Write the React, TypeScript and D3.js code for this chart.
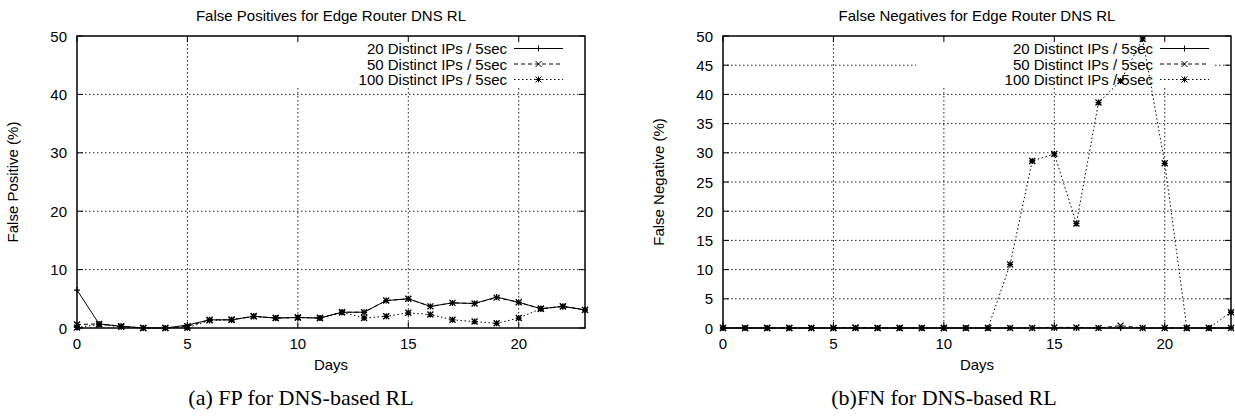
import * as d3 from 'd3';

const days = [0, 1, 2, 3, 4, 5, 6, 7, 8, 9, 10, 11, 12, 13, 14, 15, 16, 17, 18, 19, 20, 21, 22, 23];
const xTicks = [0, 5, 10, 15, 20];
const seriesNames = ['20 Distinct IPs / 5sec', '50 Distinct IPs / 5sec', '100 Distinct IPs / 5sec'];

// False positives (%)
const fp20 = [6.5, 0.7, 0.3, 0, 0, 0.5, 1.4, 1.4, 2.0, 1.7, 1.8, 1.7, 2.7, 2.7, 4.7, 5.0, 3.7, 4.3, 4.2, 5.3, 4.4, 3.3, 3.7, 3.1];
const fp50 = [0.6, 0.7, 0.3, 0, 0, 0.3, 1.4, 1.4, 2.0, 1.7, 1.8, 1.7, 2.7, 2.7, 4.7, 5.0, 3.7, 4.3, 4.2, 5.2, 4.4, 3.3, 3.7, 3.1];
const fp100 = [0.1, 0.6, 0.2, 0, 0, 0.05, 1.3, 1.4, 2.0, 1.7, 1.8, 1.7, 2.7, 1.7, 2.0, 2.6, 2.3, 1.4, 1.1, 0.8, 1.7, 3.3, 3.7, 3.1];
const fpTicks = [0, 10, 20, 30, 40, 50];

// False negatives (%)
const fn20 = [0, 0, 0, 0, 0, 0, 0, 0, 0, 0, 0, 0, 0, 0, 0, 0, 0, 0, 0, 0, 0, 0, 0, 0];
const fn50 = [0, 0, 0, 0, 0, 0, 0.1, 0, 0, 0, 0, 0, 0, 0, 0, 0.1, 0.1, 0, 0.4, 0, 0, 0, 0, 0];
const fn100 = [0, 0, 0, 0, 0, 0, 0, 0, 0, 0, 0, 0, 0, 10.9, 28.6, 29.8, 17.9, 38.6, 42.3, 49.5, 28.2, 0, 0, 2.7];
const fnTicks = [0, 5, 10, 15, 20, 25, 30, 35, 40, 45, 50];

const SANS = "'Liberation Sans', Arial, Helvetica, sans-serif";
const SERIF = "'Liberation Serif', 'Times New Roman', serif";

const styles = [
  { dash: undefined as string | undefined, marker: 'plus' },
  { dash: '4,3', marker: 'cross' },
  { dash: '1.5,2.5', marker: 'star' },
];

function markerPath(kind: string, x: number, y: number, r: number) {
  const plus = `M${x - r},${y}H${x + r}M${x},${y - r}V${y + r}`;
  const cross = `M${x - r},${y - r}L${x + r},${y + r}M${x - r},${y + r}L${x + r},${y - r}`;
  if (kind === 'plus') return plus;
  if (kind === 'cross') return cross;
  return plus + cross;
}

type PanelProps = {
  x0: number;
  title: string;
  ylabel: string;
  yTicks: number[];
  series: number[][];
  caption: string;
  captionDx: number;
};

function Panel({ x0, title, ylabel, yTicks, series, caption, captionDx }: PanelProps) {
  const plotW = 508;
  const top = 36;
  const bottom = 328;
  const x = d3.scaleLinear().domain([0, 23]).range([x0, x0 + plotW]);
  const y = d3.scaleLinear().domain([0, 50]).range([bottom, top]);
  const right = x0 + plotW;
  const cx = (x0 + right) / 2;
  const line = d3.line<number>().x((_, i) => x(days[i])).y((d) => y(d));

  // legend box (opaque, hides grid)
  const boxL = right - 315;
  const boxR = right - 16;
  const boxB = 87;
  const rowY = [48.5, 64, 79.5];

  return (
    <g>
      <text x={cx} y={21} textAnchor="middle" fontFamily={SANS} fontSize={15}>{title}</text>

      {/* grid */}
      {yTicks.filter((t) => t > 0 && t < 50).map((t) => (
        <line key={'gy' + t} x1={x0} x2={right} y1={y(t)} y2={y(t)} stroke="#222" strokeWidth={1} strokeDasharray="1.5,2.5" />
      ))}
      {xTicks.filter((t) => t > 0).map((t) => (
        <line key={'gx' + t} x1={x(t)} x2={x(t)} y1={top} y2={bottom} stroke="#222" strokeWidth={1} strokeDasharray="1.5,2.5" />
      ))}

      <rect x={boxL} y={top + 1} width={boxR - boxL} height={boxB - top - 1} fill="#fff" />

      {/* ticks */}
      {yTicks.map((t) => (
        <g key={'ty' + t}>
          <line x1={x0} x2={x0 + 6} y1={y(t)} y2={y(t)} stroke="#000" />
          <line x1={right} x2={right - 6} y1={y(t)} y2={y(t)} stroke="#000" />
          <text x={x0 - 10} y={y(t) + 5.5} textAnchor="end" fontFamily={SANS} fontSize={15}>{t}</text>
        </g>
      ))}
      {xTicks.map((t) => (
        <g key={'tx' + t}>
          <line x1={x(t)} x2={x(t)} y1={bottom} y2={bottom - 6} stroke="#000" />
          <line x1={x(t)} x2={x(t)} y1={top} y2={top + 6} stroke="#000" />
          <text x={x(t)} y={349} textAnchor="middle" fontFamily={SANS} fontSize={15}>{t}</text>
        </g>
      ))}

      {/* legend */}
      {seriesNames.map((name, i) => {
        const s1 = right - 71;
        const s2 = right - 22;
        return (
          <g key={'lg' + i}>
            <text x={right - 78} y={rowY[i] + 5.5} textAnchor="end" fontFamily={SANS} fontSize={15}>{name}</text>
            <line x1={s1} x2={s2} y1={rowY[i]} y2={rowY[i]} stroke="#000" strokeDasharray={styles[i].dash} />
            <path d={markerPath(styles[i].marker, (s1 + s2) / 2, rowY[i], 3)} stroke="#000" fill="none" />
          </g>
        );
      })}

      {/* data */}
      {series.map((vals, i) => (
        <g key={'s' + i}>
          <path d={line(vals) || ''} fill="none" stroke="#000" strokeWidth={1} strokeDasharray={styles[i].dash} />
          {vals.map((v, j) => (
            <path key={j} d={markerPath(styles[i].marker, x(days[j]), y(v), 3)} stroke="#000" strokeWidth={1.3} fill="none" />
          ))}
        </g>
      ))}

      <rect x={x0} y={top} width={plotW} height={bottom - top} fill="none" stroke="#000" strokeWidth={1.5} />

      <text transform={`translate(${x0 - 59},${(top + bottom) / 2}) rotate(-90)`} textAnchor="middle" fontFamily={SANS} fontSize={15}>{ylabel}</text>
      <text x={cx} y={370} textAnchor="middle" fontFamily={SANS} fontSize={15}>Days</text>
      <text x={cx + captionDx} y={405} textAnchor="middle" fontFamily={SERIF} fontSize={22}>{caption}</text>
    </g>
  );
}

export default function App() {
  return (
    <div style={{ position: 'absolute', left: 0, top: 0 }}>
      <svg width={1235} height={416} style={{ display: 'block', background: '#fff' }}>
        <Panel
          x0={77}
          title="False Positives for Edge Router DNS RL"
          ylabel="False Positive (%)"
          yTicks={fpTicks}
          series={[fp20, fp50, fp100]}
          caption="(a) FP for DNS-based RL"
          captionDx={-30}
        />
        <Panel
          x0={723}
          title="False Negatives for Edge Router DNS RL"
          ylabel="False Negative (%)"
          yTicks={fnTicks}
          series={[fn20, fn50, fn100]}
          caption="(b)FN for DNS-based RL"
          captionDx={-33}
        />
      </svg>
    </div>
  );
}
